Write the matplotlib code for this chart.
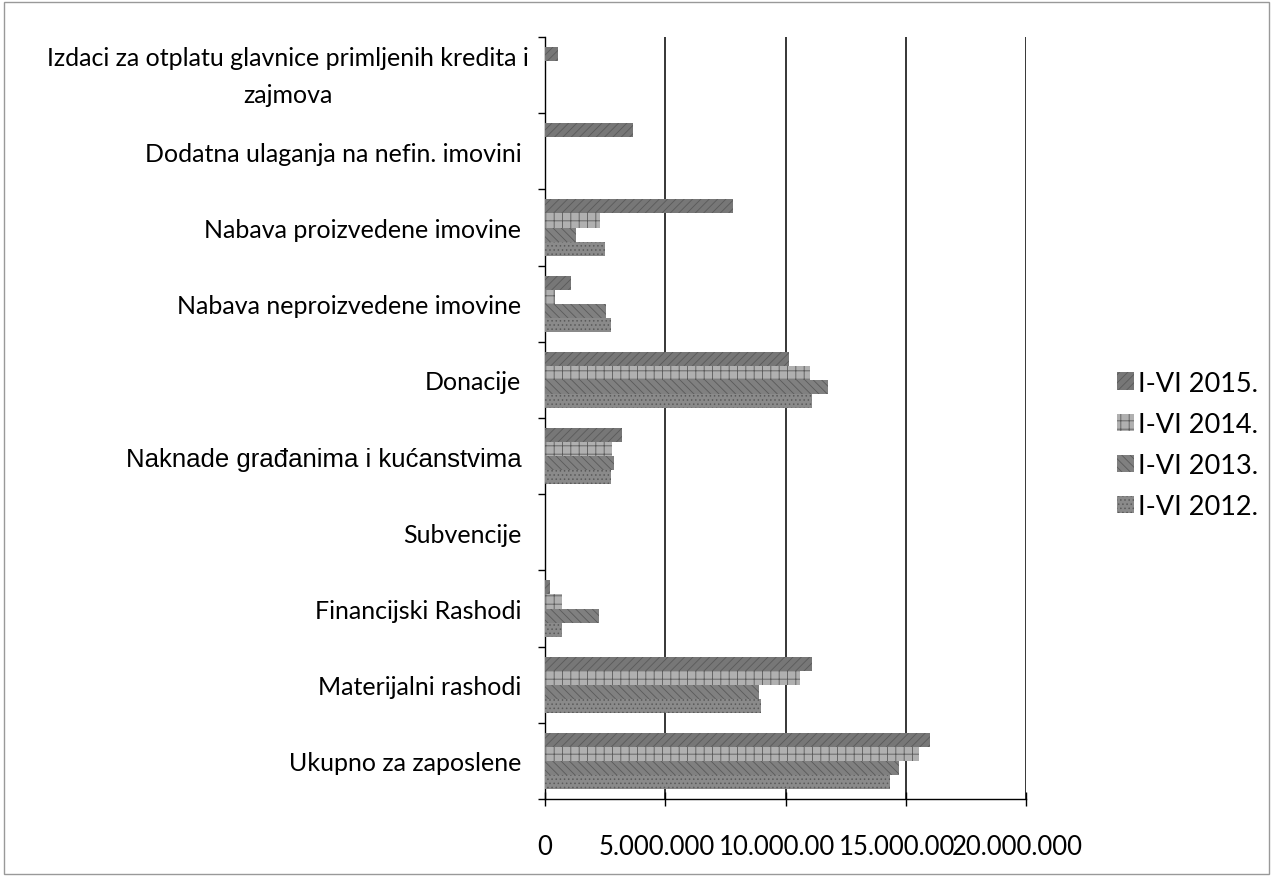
import numpy as np
import matplotlib
matplotlib.use("Agg")
import matplotlib.pyplot as plt
import matplotlib.transforms as mtransforms
from matplotlib.patches import Rectangle

plt.rcParams['font.family'] = ['Lato', 'DejaVu Sans']
plt.rcParams['hatch.linewidth'] = 0.6

# categories, bottom to top
categories = ["Ukupno za zaposlene",
              "Materijalni rashodi",
              "Financijski Rashodi",
              "Subvencije",
              "Naknade građanima i kućanstvima",
              "Donacije",
              "Nabava neproizvedene imovine",
              "Nabava proizvedene imovine",
              "Dodatna ulaganja na nefin. imovini",
              "Izdaci za otplatu glavnice primljenih kredita i\nzajmova"]

series_names = ["I-VI 2015.", "I-VI 2014.", "I-VI 2013.", "I-VI 2012."]

# values in HRK, same order as categories
v2015 = [16000000, 11100000, 200000, 0, 3200000, 10150000, 1100000, 7800000, 3650000, 550000]
v2014 = [15550000, 10600000, 700000, 0, 2800000, 11000000, 400000, 2300000, 0, 0]
v2013 = [14700000, 8900000, 2250000, 0, 2850000, 11750000, 2550000, 1300000, 0, 0]
v2012 = [14350000, 9000000, 700000, 0, 2750000, 11100000, 2750000, 2500000, 0, 0]

xticks = [0, 5000000, 10000000, 15000000, 20000000]
xticklabels = ["0", "5.000.000", "10.000.00", "15.000.00", "20.000.000"]

colors = ["#777777", "#b0b0b0", "#808080", "#8a8a8a"]
hatches = ["////", "++", "\\\\\\\\", "...."]

fig = plt.figure(figsize=(12.73, 8.78), dpi=100)
ax = fig.add_axes([545 / 1273, 1 - 800 / 878, 481 / 1273, 762 / 878])

y = np.arange(len(categories))
h = 0.184
offsets = [1.5 * h, 0.5 * h, -0.5 * h, -1.5 * h]
for vals, name, c, ht, off in zip([v2015, v2014, v2013, v2012], series_names, colors, hatches, offsets):
    ax.barh(y + off, vals, height=h, color=c, hatch=ht, edgecolor="#5a5a5a",
            linewidth=0, label=name, zorder=3)

ax.set_xlim(0, 20000000)
ax.set_ylim(-0.5, len(categories) - 0.5)
ax.set_xticks(xticks)
ax.set_xticklabels(xticklabels, fontsize=18.5)
ax.tick_params(axis='x', direction='inout', length=10, pad=20, width=1)
shift = mtransforms.ScaledTranslation(-9 / 100, 0, fig.dpi_scale_trans)
for i, lbl in enumerate(ax.get_xticklabels()):
    if i > 0:
        lbl.set_transform(lbl.get_transform() + shift)

ax.set_yticks(y)
ax.set_yticks(np.arange(-0.5, len(categories), 1), minor=True)
ax.set_yticklabels(categories, fontsize=18, multialignment='center', linespacing=1.75)
ax.tick_params(axis='y', which='major', length=0, pad=17)
ax.tick_params(axis='y', which='minor', length=5, direction='out', width=1)
for lbl in ax.get_yticklabels():
    if lbl.get_text().startswith("Naknade"):
        lbl.set_fontfamily(['Liberation Sans', 'DejaVu Sans'])
        lbl.set_fontsize(18.5)
    if lbl.get_text().startswith("Izdaci"):
        up = mtransforms.ScaledTranslation(7 / 100, 8 / 100, fig.dpi_scale_trans)
        lbl.set_transform(lbl.get_transform() + up)

ax.xaxis.grid(True, color="black", linewidth=1.1, zorder=1)
ax.spines['top'].set_visible(False)
ax.spines['right'].set_visible(False)
ax.spines['left'].set_linewidth(1)
ax.spines['bottom'].set_linewidth(1)

fig.legend(loc='center left', bbox_to_anchor=(1093 / 1273, 1 - 446 / 878), frameon=False,
           fontsize=19.5, handlelength=0.6, handleheight=0.6, handletextpad=0.15,
           labelspacing=0.6)

fig.patches.append(Rectangle((0.003, 0.003), 0.994, 0.994, transform=fig.transFigure,
                             fill=False, edgecolor="#999999", linewidth=1))

fig.savefig("out.png", dpi=100)
